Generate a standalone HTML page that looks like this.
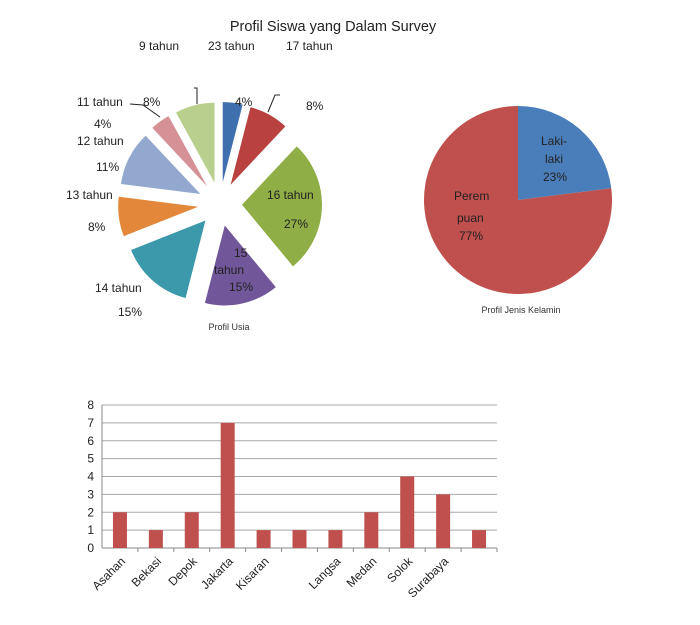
<!DOCTYPE html>
<html><head><meta charset="utf-8"><style>
html,body{margin:0;padding:0;background:#fff}
svg{display:block;font-family:"Liberation Sans",sans-serif}
</style></head><body>
<svg id="c" width="700" height="625" viewBox="0 0 700 625">
<text x="333" y="31" font-size="14.5" text-anchor="middle" fill="#222">Profil Siswa yang Dalam Survey</text>
<text x="139" y="50" font-size="12" fill="#222">9 tahun</text>
<text x="208" y="50" font-size="12" fill="#222">23 tahun</text>
<text x="286" y="50" font-size="12" fill="#222">17 tahun</text>
<g id="agePie"></g>
<g id="genderPie"></g>
<g id="bars"></g>
<g font-size="12" fill="#222">
<text x="77" y="106">11 tahun</text><text x="143" y="106">8%</text>
<text x="235" y="106">4%</text><text x="306" y="110">8%</text>
<text x="94" y="128">4%</text>
<text x="77" y="145">12 tahun</text>
<text x="96" y="171">11%</text>
<text x="66" y="199">13 tahun</text>
<text x="88" y="231">8%</text>
<text x="267" y="199">16 tahun</text>
<text x="284" y="228">27%</text>
<text x="234" y="257">15</text>
<text x="214" y="274">tahun</text>
<text x="229" y="291">15%</text>
<text x="95" y="292">14 tahun</text>
<text x="118" y="316">15%</text>
</g>
<g stroke="#222" fill="none" stroke-width="1">
<polyline points="130,104 143,105 160,117"/>
<polyline points="194,88 197,88 197,104"/>
<polyline points="280,95 275,95 268,112"/>
</g>
<text x="229" y="330" font-size="9" text-anchor="middle" fill="#333">Profil Usia</text>
<g font-size="12" fill="#222">
<text x="541" y="145">Laki-</text><text x="545" y="163">laki</text><text x="543" y="181">23%</text>
<text x="454" y="200">Perem</text><text x="457" y="222">puan</text><text x="459" y="240">77%</text>
</g>
<text x="521" y="313" font-size="9" text-anchor="middle" fill="#333">Profil Jenis Kelamin</text>
<script>
const ageShares=[4,8,27,15,15,8,11,4,8];
const ageColors=["#3f6fad","#b94140","#8fae45","#72569a","#3b99ab","#e3883a","#93a8cf","#d59196","#b9cf8e"];
const genderShares=[23,77];
const genderColors=["#4a7ebb","#c0504d"];
const cities=["Asahan","Bekasi","Depok","Jakarta","Kisaran","","Langsa","Medan","Solok","Surabaya",""];
const counts=[2,1,2,7,1,1,1,2,4,3,1];
const yTicks=[0,1,2,3,4,5,6,7,8];
const NS="http://www.w3.org/2000/svg";
function mk(t,a,p){const e=document.createElementNS(NS,t);for(const k in a)e.setAttribute(k,a[k]);p.appendChild(e);return e;}
function pie(g,shares,colors,cx,cy,r,ex,nm){
 const tot=shares.reduce((a,b)=>a+b,0);let acc=0;
 shares.forEach((s,i)=>{
  const a0=acc/tot*2*Math.PI;acc+=s;const a1=acc/tot*2*Math.PI;const am=(a0+a1)/2;
  const ox=cx+ex*Math.sin(am),oy=cy-ex*Math.cos(am);
  const x0=ox+r*Math.sin(a0),y0=oy-r*Math.cos(a0),x1=ox+r*Math.sin(a1),y1=oy-r*Math.cos(a1);
  const p=mk("path",{d:`M${ox},${oy}L${x0},${y0}A${r},${r} 0 ${a1-a0>Math.PI?1:0} 1 ${x1},${y1}Z`,fill:colors[i]},g);
  
  
 });
}
pie(document.getElementById('agePie'),ageShares,ageColors,220,204,80,22,'age');
pie(document.getElementById('genderPie'),genderShares,genderColors,518,200,94,0,'gender');
const bg=document.getElementById('bars');
const X0=102,X1=497,Y0=548,Y8=405;
const yS=v=>Y0-(Y0-Y8)*v/8;
const bw=(X1-X0)/cities.length;
yTicks.forEach(t=>{
 const l=mk("line",{x1:X0,x2:X1,y1:yS(t),y2:yS(t),stroke:t?"#a8a8a8":"#888","stroke-width":1},bg);
 
 
 const tx=mk("text",{x:X0-8,y:yS(t)+4,"font-size":12,"text-anchor":"end",fill:"#222"},bg);tx.textContent=t;
 
 
});
mk("line",{x1:X0,x2:X0,y1:Y8,y2:Y0,stroke:"#888"},bg);
counts.forEach((v,i)=>{
 const cx=X0+bw*(i+0.5);
 const r=mk("rect",{x:cx-7,y:yS(v),width:14,height:Y0-yS(v),fill:"#c0504d"},bg);
 
 
 const tk=mk("line",{x1:X0+bw*(i+1),x2:X0+bw*(i+1),y1:Y0,y2:Y0+4,stroke:"#888"},bg);
 
 
 if(cities[i]){
  const t=mk("text",{x:cx+6,y:Y0+14,"font-size":12,"text-anchor":"end",fill:"#222",transform:`rotate(-45 ${cx+6} ${Y0+14})`},bg);
  t.textContent=cities[i];
  
  
 }
});
</script>
</svg>
</body></html>
